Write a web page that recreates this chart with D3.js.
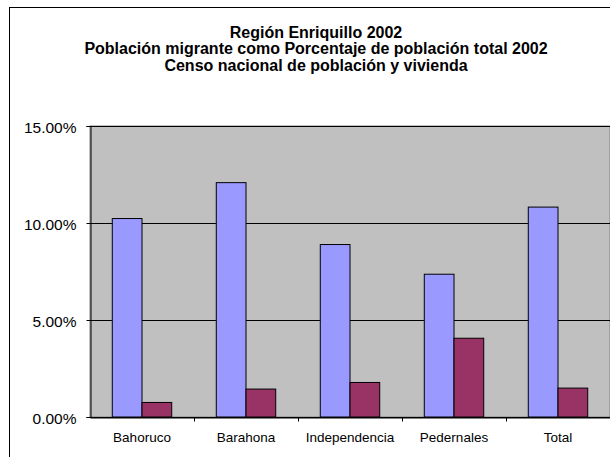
<!DOCTYPE html>
<html>
<head>
<meta charset="utf-8">
<script src="https://cdn.jsdelivr.net/npm/d3@7"></script>
<style>
  body { margin: 0; background: #fff; }
  svg { display: block; font-family: "Liberation Sans", Arial, sans-serif; }
</style>
</head>
<body>
<div id="chart"></div>
<script>
var categories = ['Bahoruco', 'Barahona', 'Independencia', 'Pedernales', 'Total'];
var serieMigrante = [0.1023, 0.1208, 0.0889, 0.0736, 0.1082];
var serieOtra     = [0.0075, 0.0144, 0.0178, 0.0406, 0.0149];
var yTicks = [0, 0.05, 0.10, 0.15];
var titleLines = [
  'Región Enriquillo 2002',
  'Población migrante como Porcentaje de población total 2002',
  'Censo nacional de población y vivienda'
];
var colors = ['#9999FF', '#993366'];

var W = 610, H = 457;
var px = 90, py = 126, pw = 520, ph = 291;

var svg = d3.select('#chart').append('svg')
  .attr('width', W)
  .attr('height', H);

/* outer chart frame, right side runs off the picture */
svg.append('rect')
  .attr('x', 9.5).attr('y', 7.5)
  .attr('width', 620).attr('height', 460)
  .attr('fill', '#fff')
  .attr('stroke', '#000')
  .attr('stroke-width', 1);

svg.append('g')
  .selectAll('text')
  .data(titleLines)
  .enter().append('text')
  .attr('x', 316)
  .attr('y', function (d, i) { return 38 + i * 16.3; })
  .attr('text-anchor', 'middle')
  .attr('font-size', '16px')
  .attr('font-weight', 'bold')
  .text(function (d) { return d; });

var x0 = d3.scaleBand().domain(categories).range([0, pw]).paddingInner(0).paddingOuter(0);
var x1 = d3.scaleBand().domain([0, 1]).range([0, x0.bandwidth()]).paddingOuter(0.75).paddingInner(0);
var y  = d3.scaleLinear().domain([0, 0.15]).range([ph, 0]);

var g = svg.append('g').attr('transform', 'translate(' + px + ',' + py + ')');

g.append('rect')
  .attr('x', 0).attr('y', 0)
  .attr('width', pw).attr('height', ph)
  .attr('fill', '#C0C0C0')
  .attr('stroke', '#808080');

g.append('g')
  .selectAll('line')
  .data(yTicks)
  .enter().append('line')
  .attr('x1', 0).attr('x2', pw)
  .attr('y1', function (d) { return Math.round(y(d)) + 0.5; })
  .attr('y2', function (d) { return Math.round(y(d)) + 0.5; })
  .attr('stroke', '#000');

var rows = categories.map(function (c, i) {
  return { cat: c, vals: [serieMigrante[i], serieOtra[i]] };
});

g.append('g')
  .selectAll('g')
  .data(rows)
  .enter().append('g')
  .attr('transform', function (d) { return 'translate(' + x0(d.cat) + ',0)'; })
  .selectAll('rect')
  .data(function (d) { return d.vals.map(function (v, k) { return { k: k, v: v }; }); })
  .enter().append('rect')
  .attr('x', function (d) { return x1(d.k); })
  .attr('y', function (d) { return y(d.v); })
  .attr('width', x1.bandwidth())
  .attr('height', function (d) { return ph - y(d.v); })
  .attr('fill', function (d) { return colors[d.k]; })
  .attr('stroke', '#000')
  .attr('stroke-width', 1);

var yAxis = g.append('g')
  .attr('transform', 'translate(0.5,0)')
  .call(d3.axisLeft(y).tickValues(yTicks).tickSize(4).tickPadding(10)
    .tickFormat(function (d) { return (d * 100).toFixed(2) + '%'; }));
yAxis.selectAll('text')
  .attr('font-size', '15.5px')
  .attr('dy', '0.4em')
  .attr('fill', '#000')
  .attr('font-family', 'Liberation Sans, Arial, sans-serif');
yAxis.select('.domain').attr('stroke', '#000');

var xAxis = g.append('g')
  .attr('transform', 'translate(0,' + (ph + 0.5) + ')')
  .call(d3.axisBottom(x0).tickSize(0).tickPadding(14.5));
xAxis.selectAll('text')
  .attr('font-size', '13.5px')
  .attr('fill', '#000')
  .attr('font-family', 'Liberation Sans, Arial, sans-serif');
xAxis.select('.domain').attr('stroke', '#000');

/* category separators below the axis */
xAxis.append('g')
  .selectAll('line')
  .data(categories.slice(1))
  .enter().append('line')
  .attr('x1', function (d) { return Math.round(x0(d)) + 0.5; })
  .attr('x2', function (d) { return Math.round(x0(d)) + 0.5; })
  .attr('y1', 0).attr('y2', 4)
  .attr('stroke', '#000');
</script>
</body>
</html>
